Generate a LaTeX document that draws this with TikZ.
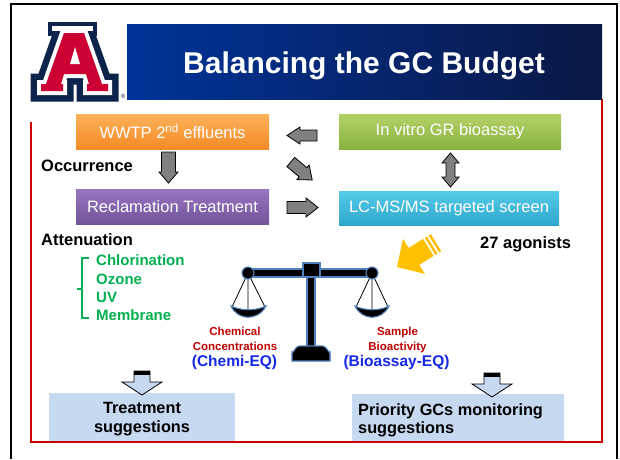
\documentclass[tikz,border=0pt]{standalone}
\usepackage{fontspec}
\setmainfont{Liberation Sans}
\newcommand\setsize[2]{\fontsize{#1}{#2}\selectfont}
% block arrow: x, y, angle, length, shaft half width, head half width, head length, style
\newcommand\blockarrow[8]{%
  \begin{scope}[shift={(#1,#2)},rotate=#3]
    \path[#8] (-#4/2,-#5) -- (#4/2-#7,-#5) -- (#4/2-#7,-#6) -- (#4/2,0)
      -- (#4/2-#7,#6) -- (#4/2-#7,#5) -- (-#4/2,#5) -- cycle;
  \end{scope}}
\definecolor{navy}{RGB}{12,35,75}
\definecolor{uared}{RGB}{204,0,51}
\definecolor{bannerL}{RGB}{0,51,153}
\definecolor{bannerR}{RGB}{10,24,68}
\definecolor{orgT}{RGB}{252,178,92}
\definecolor{orgB}{RGB}{244,138,38}
\definecolor{grnT}{RGB}{178,210,104}
\definecolor{grnB}{RGB}{138,178,64}
\definecolor{purT}{RGB}{152,118,192}
\definecolor{purB}{RGB}{114,84,154}
\definecolor{cyaT}{RGB}{84,202,232}
\definecolor{cyaB}{RGB}{48,168,204}
\definecolor{framered}{RGB}{204,0,0}
\definecolor{listgreen}{RGB}{0,176,80}
\definecolor{labred}{RGB}{192,0,0}
\definecolor{eqblue}{RGB}{20,40,230}
\definecolor{paleblue}{RGB}{198,217,241}
\definecolor{steel}{RGB}{79,129,189}
\definecolor{amber}{RGB}{255,192,0}
\begin{document}
\begin{tikzpicture}[x=1pt,y=-1pt,
  flowbox/.style={minimum width=193pt,minimum height=35pt,inner sep=0pt,
    text=white,font=\setsize{16.5}{19}},
  grayarr/.style={fill=black!50,draw=black,line width=0.8pt,line join=miter},
  hollowarr/.style={fill=paleblue,draw=black,line width=0.8pt},
  bold/.style={font=\bfseries\setsize{16.5}{19.5}},
  listitem/.style={font=\bfseries\setsize{15}{18.3},text=listgreen,anchor=base west,inner sep=0pt},
  scalepart/.style={fill=black,draw=steel,line width=1.1pt},
  note/.style={inner sep=0pt,anchor=base,align=center}]
\useasboundingbox (0,0) rectangle (620,459);
\fill[white] (0,0) rectangle (620,459);

% outer slide frame
\draw[line width=2pt] (11,459) -- (11,4) -- (617,4) -- (617,459);
% red content frame
\draw[framered,line width=1.4pt] (31,122) -- (31,442) -- (602,442) -- (602,99);

% title banner
\shade[left color=bannerL,right color=bannerR] (127,24) rectangle (602,99);
\node[text=white,font=\bfseries\setsize{30}{34},anchor=base,inner sep=0pt] (title) at (364,73) {Balancing the GC Budget};

% block A logo: navy and white outlines around a red A, with a wide top cap
\def\Apath{(64,33) -- (84,33) -- (102,84) -- (108,84) -- (108,91) -- (87,91) -- (87,84)
  -- (89,84) -- (86,74) -- (64,74) -- (61,84) -- (63,84) -- (63,91) -- (41,91) -- (41,84)
  -- (46,84) -- cycle}
\fill[navy] (48,22) rectangle (97,36);
\draw[navy,fill=navy,line width=21pt,line join=miter] \Apath;
\fill[white] (52,26) rectangle (93,31);
\draw[white,line width=8pt,line join=miter] \Apath;
\fill[uared] \Apath;
\fill[white] (75,47) -- (80,64) -- (70,64) -- cycle;
\node[text=navy,font=\setsize{6}{6},inner sep=0pt] (reg) at (123,96) {®};

% flow boxes
\node[flowbox,top color=orgT,bottom color=orgB] (wwtp) at (172.5,131.5) {WWTP 2\textsuperscript{nd} effluents};
\node[flowbox,top color=purT,bottom color=purB] (recl) at (172.5,206.5) {Reclamation Treatment};
\node[flowbox,minimum width=222pt,top color=grnT,bottom color=grnB] (gr) at (450,131.5) {In vitro GR bioassay};
\node[flowbox,minimum width=220pt,minimum height=34pt,top color=cyaT,bottom color=cyaB] (lcms) at (449,208) {LC-MS/MS targeted screen};

% gray block arrows between the boxes
\blockarrow{302}{135.5}{180}{30}{5.5}{8.5}{13}{grayarr}
\blockarrow{168.5}{167.5}{-90}{31}{7}{9.5}{11}{grayarr}
\blockarrow{301.5}{171}{-40}{28}{6}{9.5}{12}{grayarr}
\blockarrow{302.5}{207.5}{0}{31}{6}{9.5}{12}{grayarr}
% two-headed arrow between bioassay and screen
\path[grayarr] (446,163) -- (446,177) -- (442,177) -- (450.5,187) -- (459,177) -- (455,177)
  -- (455,163) -- (459,163) -- (450.5,153) -- (442,163) -- cycle;

% side labels
\node[bold,anchor=base west,inner sep=0pt] (occ) at (41,171) {Occurrence};
\node[bold,anchor=base west,inner sep=0pt] (att) at (41,245) {Attenuation};
\node[bold,anchor=base west,inner sep=0pt] (ago) at (480,248) {27 agonists};

% treatment options list with bracket
\draw[listgreen,line width=1.5pt] (89,258) -- (82,258) -- (82,318) -- (89,318) (77,289) -- (82,289);
\node[listitem] (chl) at (96,265) {Chlorination};
\node[listitem] (ozo) at (96,284) {Ozone};
\node[listitem] (uv) at (96,302) {UV};
\node[listitem] (mem) at (96,320) {Membrane};

% balance scale
\draw[line width=0.8pt] (248,273) -- (232,307) (248,273) -- (265,307) (248,273) -- (248,312);
\draw[line width=0.8pt] (372,273) -- (356,307) (372,273) -- (388,307) (372,273) -- (372,312);
\path[scalepart] (231,306) .. controls (238,321) and (258,321) .. (266,306)
  .. controls (256,311) and (241,311) .. cycle;
\path[scalepart] (355,306) .. controls (362,321) and (382,321) .. (389,306)
  .. controls (380,311) and (365,311) .. cycle;
\path[scalepart] (307,277) rectangle (315,350);
\path[scalepart] (292,361) -- (292,352) to[out=-90,in=180] (299,346) -- (323,346)
  to[out=0,in=-90] (330,352) -- (330,361) -- cycle;
\path[scalepart] (248,269) rectangle (372,277);
\path[scalepart] (303,263) rectangle (320,277);
\path[scalepart] (248,273) circle (6);
\path[scalepart] (372,273) circle (6);

% scale labels (base anchor sits on the last line)
\node[note,text=labred,font=\bfseries\setsize{11.5}{15}] (chem) at (235,350.7) {Chemical\\Concentrations};
\node[note,text=eqblue,font=\bfseries\setsize{15.5}{18}] (chemeq) at (234.5,366) {(Chemi-EQ)};
\node[note,text=labred,font=\bfseries\setsize{11.5}{15}] (bio) at (397.5,350.7) {Sample\\Bioactivity};
\node[note,text=eqblue,font=\bfseries\setsize{15.5}{18}] (bioeq) at (396.5,366) {(Bioassay-EQ)};

% highlight arrow pointing at the scale
\begin{scope}[shift={(397,267)},rotate=32]
  \fill[amber] (0,0) -- (20,-20.7) -- (20,-10) -- (37,-10) -- (37,10) -- (20,10) -- (20,20.7) -- cycle;
  \fill[amber] (39,-10) rectangle (41.5,10);
  \fill[amber] (43.5,-10) rectangle (46,10);
\end{scope}

% outcome boxes
\fill[paleblue] (49,393) rectangle (235,441);
\fill[paleblue] (352,394) rectangle (564,441);
\node[note,font=\bfseries\setsize{16.3}{19.4}] (treat) at (142,432.7) {Treatment\\suggestions};
\node[inner sep=0pt,anchor=base west,align=left,font=\bfseries\setsize{16.3}{18}] (prio) at (358,433) {Priority GCs monitoring\\suggestions};

% hollow arrows into the outcome boxes
\path[hollowarr] (134,371) -- (150,371) -- (150,382) -- (162,382) -- (142,395) -- (122,382) -- (134,382) -- cycle;
\fill (134,371) rectangle (150,375);
\path[hollowarr] (484,373) -- (500,373) -- (500,384) -- (512,384) -- (492,397) -- (472,384) -- (484,384) -- cycle;
\fill (484,373) rectangle (500,377);
\end{tikzpicture}
\end{document}
